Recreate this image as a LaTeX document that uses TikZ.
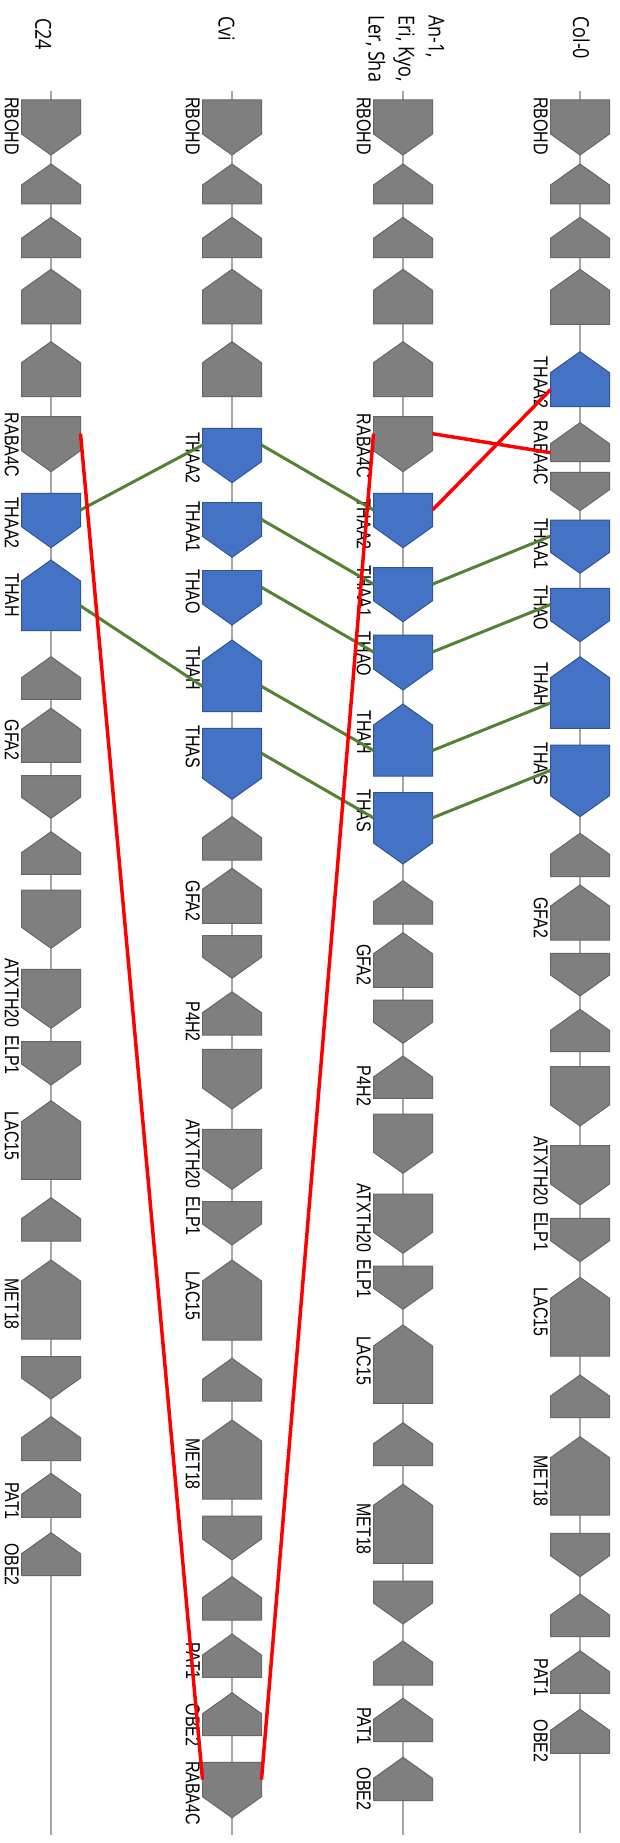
\documentclass[tikz,border=0pt]{standalone}
\usepackage{fontspec}
\setmainfont{Liberation Sans}
\newfontfamily\titlefont{Open Sans}
\definecolor{gfill}{HTML}{7F7F7F}
\definecolor{gline}{HTML}{676767}
\definecolor{bfill}{HTML}{4472C4}
\definecolor{bline}{HTML}{2F5597}
\definecolor{lgreen}{HTML}{548235}
\definecolor{trackc}{HTML}{A6A6A6}
\tikzset{
 gg/.style={fill=gfill, draw=gline, line width=1pt},
 bb/.style={fill=bfill, draw=bline, line width=1pt},
 glabel/.style={rotate=-90, xscale=0.8, anchor=north, inner sep=0pt, font=\fontsize{20}{24}\selectfont},
 ttl/.style={rotate=-90, xscale=0.82, anchor=north west, inner sep=0pt, align=left, font=\titlefont\fontsize{22}{30}\selectfont},
 trk/.style={draw=trackc, line width=1.2pt},
 homol/.style={draw=lgreen, line width=3pt},
 trans/.style={draw=red, line width=3.5pt},
}
% up-pointing gene: name, x, top(tip), bottom, style
\newcommand\geneU[5]{%
 \draw[#5] (#2,#3) -- ({#2+29.5},{#3+21}) -- ({#2+29.5},#4) -- ({#2-29.5},#4) -- ({#2-29.5},{#3+21}) -- cycle;
 \coordinate (#1-w) at ({#2-29.5},{(#3+21+#4)/2});
 \coordinate (#1-e) at ({#2+29.5},{(#3+21+#4)/2});
}
% down-pointing gene: name, x, top, bottom(tip), style
\newcommand\geneD[5]{%
 \draw[#5] ({#2-29.5},#3) -- ({#2+29.5},#3) -- ({#2+29.5},{#4-21}) -- (#2,#4) -- ({#2-29.5},{#4-21}) -- cycle;
 \coordinate (#1-w) at ({#2-29.5},{(#3+#4-21)/2});
 \coordinate (#1-e) at ({#2+29.5},{(#3+#4-21)/2});
}
% label: name, track x, y centre, text
\newcommand\glab[4]{\node[glabel] (#1) at ({#2-32},#3) {#4};}
\begin{document}
\begin{tikzpicture}[x=1pt,y=-1pt]
\fill[white] (0,0) rectangle (619,1843);
\useasboundingbox (0,0) rectangle (619,1843);
% track lines
\draw[trk] (51,90.7) -- (51,1835);
\draw[trk] (232,90.7) -- (232,1835);
\draw[trk] (403,90.7) -- (403,1835);
\draw[trk] (580,90.7) -- (580,1833);
% titles
\node[ttl] (tC24) at (51.5,18) {C24};
\node[ttl] (tCvi) at (235,16) {Cvi};
\node[ttl] (tAn) at (444.5,15) {An-1,\\Eri, Kyo,\\Ler, Sha};
\node[ttl] (tCol) at (590,16) {Col-0};
% ---------- C24 ----------
\geneD{c1}{51}{100}{155}{gg}
\geneU{c2}{51}{164}{204}{gg}
\geneU{c3}{51}{217.3}{257.7}{gg}
\geneU{c4}{51}{269.3}{324}{gg}
\geneU{c5}{51}{341.7}{396.7}{gg}
\geneD{c6}{51}{416.7}{471.7}{gg}
\geneD{c7}{51}{493.3}{547.7}{bb}
\geneU{c8}{51}{560}{630.7}{bb}
\geneU{c9}{51}{656.7}{699.3}{gg}
\geneU{c10}{51}{708.3}{762.3}{gg}
\geneD{c11}{51}{775.7}{818.3}{gg}
\geneU{c12}{51}{831.7}{874.3}{gg}
\geneD{c13}{51}{890}{948.3}{gg}
\geneD{c14}{51}{969.3}{1028.3}{gg}
\geneD{c15}{51}{1041.7}{1085}{gg}
\geneU{c16}{51}{1100.7}{1179.3}{gg}
\geneU{c17}{51}{1197.7}{1241}{gg}
\geneU{c18}{51}{1260}{1339}{gg}
\geneD{c19}{51}{1356.7}{1399}{gg}
\geneU{c20}{51}{1416.7}{1460.7}{gg}
\geneU{c21}{51}{1473.3}{1517.3}{gg}
\geneU{c22}{51}{1532.7}{1575.7}{gg}
\glab{lc1}{51}{126}{RBOHD}
\glab{lc6}{51}{445}{RABA4C}
\glab{lc7}{51}{523}{THAA2}
\glab{lc8}{51}{595}{THAH}
\glab{lc10}{51}{740}{GFA2}
\glab{lc14}{51}{993}{ATXTH20}
\glab{lc15}{51}{1055}{ELP1}
\glab{lc16}{51}{1136}{LAC15}
\glab{lc18}{51}{1304}{MET18}
\glab{lc21}{51}{1501}{PAT1}
\glab{lc22}{51}{1564.5}{OBE2}
% ---------- Cvi ----------
\geneD{v1}{232}{100}{155}{gg}
\geneU{v2}{232}{164}{204}{gg}
\geneU{v3}{232}{217.3}{257.7}{gg}
\geneU{v4}{232}{269.3}{324}{gg}
\geneU{v5}{232}{341.7}{396.7}{gg}
\geneD{v6}{232}{428.3}{482.7}{bb}
\geneD{v7}{232}{502.7}{557.3}{bb}
\geneD{v8}{232}{570.7}{625}{bb}
\geneU{v9}{232}{640}{711.7}{bb}
\geneD{v10}{232}{728.3}{799.3}{bb}
\geneU{v11}{232}{816.7}{860}{gg}
\geneU{v12}{232}{868.3}{923.3}{gg}
\geneD{v13}{232}{935.7}{978.3}{gg}
\geneU{v14}{232}{991.7}{1035}{gg}
\geneD{v15}{232}{1049.3}{1109}{gg}
\geneD{v16}{232}{1129.3}{1189.3}{gg}
\geneD{v17}{232}{1201.7}{1245}{gg}
\geneU{v18}{232}{1260}{1340}{gg}
\geneU{v19}{232}{1358.3}{1401}{gg}
\geneU{v20}{232}{1420}{1499}{gg}
\geneD{v21}{232}{1516}{1560}{gg}
\geneU{v22}{232}{1576.7}{1620}{gg}
\geneU{v23}{232}{1634}{1677.3}{gg}
\geneU{v24}{232}{1692.7}{1735.7}{gg}
\geneD{v25}{232}{1762.3}{1817.7}{gg}
\glab{lv1}{232}{126}{RBOHD}
\glab{lv6}{232}{458}{THAA2}
\glab{lv7}{232}{527}{THAA1}
\glab{lv8}{232}{591.5}{THAO}
\glab{lv9}{232}{668}{THAH}
\glab{lv10}{232}{747}{THAS}
\glab{lv12}{232}{901}{GFA2}
\glab{lv14}{232}{1021.7}{P4H2}
\glab{lv16}{232}{1154}{ATXTH20}
\glab{lv17}{232}{1216}{ELP1}
\glab{lv18}{232}{1296}{LAC15}
\glab{lv20}{232}{1464}{MET18}
\glab{lv23}{232}{1661}{PAT1}
\glab{lv24}{232}{1725}{OBE2}
\glab{lv25}{232}{1793}{RABA4C}
% ---------- An-1 ----------
\geneD{a1}{403}{100}{155}{gg}
\geneU{a2}{403}{164}{204}{gg}
\geneU{a3}{403}{217.3}{257.7}{gg}
\geneU{a4}{403}{269.3}{324}{gg}
\geneU{a5}{403}{341.7}{396.7}{gg}
\geneD{a6}{403}{416.7}{471.7}{gg}
\geneD{a7}{403}{493.3}{547.7}{bb}
\geneD{a8}{403}{567.7}{621.7}{bb}
\geneD{a9}{403}{635}{690}{bb}
\geneU{a10}{403}{704}{776}{bb}
\geneD{a11}{403}{792.7}{864}{bb}
\geneU{a12}{403}{880.7}{924}{gg}
\geneU{a13}{403}{932.7}{987.3}{gg}
\geneD{a14}{403}{1000}{1043.3}{gg}
\geneU{a15}{403}{1056}{1098.3}{gg}
\geneD{a16}{403}{1114}{1173.3}{gg}
\geneD{a17}{403}{1194}{1253.3}{gg}
\geneD{a18}{403}{1266}{1309.3}{gg}
\geneU{a19}{403}{1325}{1403.3}{gg}
\geneU{a20}{403}{1422.7}{1465.7}{gg}
\geneU{a21}{403}{1484.3}{1563.3}{gg}
\geneD{a22}{403}{1581}{1624}{gg}
\geneU{a23}{403}{1641}{1685}{gg}
\geneU{a24}{403}{1698.3}{1741.7}{gg}
\geneU{a25}{403}{1757.3}{1800.7}{gg}
\glab{la1}{403}{126}{RBOHD}
\glab{la6}{403}{446}{RABA4C}
\glab{la7}{403}{524}{THAA2}
\glab{la8}{403}{591.7}{THAA1}
\glab{la9}{403}{654}{THAO}
\glab{la10}{403}{732}{THAH}
\glab{la11}{403}{811}{THAS}
\glab{la13}{403}{964.5}{GFA2}
\glab{la15}{403}{1086}{P4H2}
\glab{la17}{403}{1218}{ATXTH20}
\glab{la18}{403}{1279}{ELP1}
\glab{la19}{403}{1360.5}{LAC15}
\glab{la21}{403}{1529}{MET18}
\glab{la24}{403}{1726}{PAT1}
\glab{la25}{403}{1789}{OBE2}
% ---------- Col-0 ----------
\geneD{k1}{580}{100}{155}{gg}
\geneU{k2}{580}{164}{204}{gg}
\geneU{k3}{580}{217.3}{257.7}{gg}
\geneU{k4}{580}{269.3}{324.3}{gg}
\geneU{k5}{580}{351.7}{406.7}{bb}
\geneU{k6}{580}{422.7}{461.7}{gg}
\geneD{k7}{580}{472.3}{510.7}{gg}
\geneD{k8}{580}{520}{573.3}{bb}
\geneD{k9}{580}{588.3}{641.7}{bb}
\geneU{k10}{580}{656.7}{728.3}{bb}
\geneD{k11}{580}{745}{816.7}{bb}
\geneU{k12}{580}{833.3}{876.7}{gg}
\geneU{k13}{580}{885}{940}{gg}
\geneD{k14}{580}{953.3}{996}{gg}
\geneU{k15}{580}{1009.3}{1051.7}{gg}
\geneD{k16}{580}{1066.7}{1126}{gg}
\geneD{k17}{580}{1145.7}{1205}{gg}
\geneD{k18}{580}{1218.3}{1261.7}{gg}
\geneU{k19}{580}{1277.3}{1356}{gg}
\geneU{k20}{580}{1375}{1417.7}{gg}
\geneU{k21}{580}{1436.7}{1515}{gg}
\geneD{k22}{580}{1533.3}{1576.7}{gg}
\geneU{k23}{580}{1594}{1636.7}{gg}
\geneU{k24}{580}{1650.7}{1693.3}{gg}
\geneU{k25}{580}{1709.3}{1753.3}{gg}
\glab{lk1}{580}{126}{RBOHD}
\glab{lk5}{580}{382.5}{THAA2}
\glab{lk6}{580}{453}{RABA4C}
\glab{lk8}{580}{544}{THAA1}
\glab{lk9}{580}{608}{THAO}
\glab{lk10}{580}{684.7}{THAH}
\glab{lk11}{580}{764}{THAS}
\glab{lk13}{580}{917.5}{GFA2}
\glab{lk17}{580}{1171}{ATXTH20}
\glab{lk18}{580}{1231.7}{ELP1}
\glab{lk19}{580}{1312}{LAC15}
\glab{lk21}{580}{1481}{MET18}
\glab{lk24}{580}{1677.5}{PAT1}
\glab{lk25}{580}{1741}{OBE2}
% ---------- syntenic links ----------
\draw[homol] (c7-e) -- (v6-w);
\draw[homol] (c8-e) -- (v9-w);
\draw[homol] (v6-e) -- (a7-w);
\draw[homol] (v7-e) -- (a8-w);
\draw[homol] (v8-e) -- (a9-w);
\draw[homol] (v9-e) -- (a10-w);
\draw[homol] (v10-e) -- (a11-w);
\draw[homol] (a8-e) -- (k8-w);
\draw[homol] (a9-e) -- (k9-w);
\draw[homol] (a10-e) -- (k10-w);
\draw[homol] (a11-e) -- (k11-w);
% ---------- rearrangements ----------
\draw[trans] (c6-e) -- (v25-w);
\draw[trans] (a6-w) -- (v25-e);
\draw[trans] (a6-e) -- (k6-w);
\draw[trans] (a7-e) -- (k5-w);
\end{tikzpicture}
\end{document}
